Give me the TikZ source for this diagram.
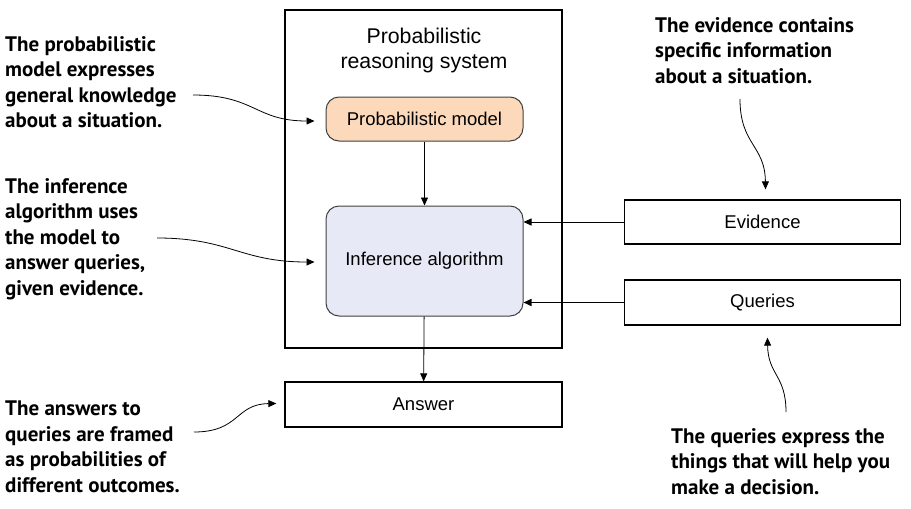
\documentclass[tikz,border=0pt]{standalone}
\usepackage{fontspec}
\setmainfont{Liberation Sans}
\newfontfamily\annfont{PT Sans}
\usetikzlibrary{arrows.meta}
\definecolor{peach}{HTML}{FCD9BB}
\definecolor{lblue}{HTML}{E7EAF6}
\definecolor{bord}{HTML}{404040}
\tikzset{
  box/.style={draw=black, line width=1.3pt, inner sep=0pt, font=\fontsize{18.5}{22}\selectfont},
  roundbox/.style={draw=bord, line width=1pt, rounded corners=13pt, inner sep=0pt, minimum width=197pt, font=\fontsize{18.5}{22}\selectfont},
  ann/.style={anchor=north west, inner sep=0pt, align=left, font=\annfont\bfseries\fontsize{21}{25.5}\selectfont},
  arr/.style={-{Triangle[length=8pt,width=7pt]}, line width=0.8pt},
}
\begin{document}
\begin{tikzpicture}[x=1pt,y=-1pt]
\useasboundingbox (0,0) rectangle (911,509);
% system box
\node[box, minimum width=277pt, minimum height=338pt] (sys) at (423.5,179) {};
\node[align=center, inner sep=0pt, font=\fontsize{21.3}{25}\selectfont] (title) at (424,50) {Probabilistic\\reasoning system};
\node[roundbox, fill=peach, minimum height=44pt] (model) at (424.5,119) {Probabilistic model};
\node[roundbox, fill=lblue, minimum height=110pt] (infer) at (424.5,261) {Inference algorithm};
\node[box, minimum width=277pt, minimum height=45pt] (answer) at (423.5,404.5) {Answer};
\node[box, minimum width=276pt, minimum height=44pt] (evid) at (762.5,222) {Evidence};
\node[box, minimum width=276pt, minimum height=45pt] (query) at (762.5,302.5) {Queries};
% main arrows
\draw[arr] (model) -- (infer);
\draw[arr] (infer) -- (answer);
\draw[arr] (evid.west) -- (infer.east |- evid.west);
\draw[arr, line width=1.6pt] (query.west) -- (infer.east |- query.west);
% annotations
\node[ann] (tmodel) at (5,36) {The probabilistic\\model expresses\\general knowledge\\about a situation.};
\node[ann] (tinfer) at (5,178) {The inference\\algorithm uses\\the model to\\answer queries,\\given evidence.};
\node[ann] (tanswer) at (5,401) {The answers to\\queries are framed\\as probabilities of\\different outcomes.};
\node[ann] (tevid) at (655,17) {The evidence contains\\specific information\\about a situation.};
\node[ann] (tquery) at (671,428) {The queries express the\\things that will help you\\make a decision.};
\coordinate (c1) at (193,95);
\coordinate (c2) at (157,238);
\coordinate (c3) at (194,432);
\coordinate (c4) at (740,99);
\coordinate (c5) at (786,412);
\draw[arr] (c1) .. controls (255,95) and (255,121) .. ([xshift=-11pt,yshift=-2pt]model.west);
\draw[arr] (c2) .. controls (230,238) and (240,262) .. ([xshift=-11pt,yshift=-1pt]infer.west);
\draw[arr] (c3) .. controls (240,432) and (235,404) .. ([xshift=-8pt,yshift=1pt]answer.west);
\draw[arr] (c4) .. controls (740,145) and (765,145) .. ([xshift=3pt,yshift=10pt]evid.north);
\draw[arr] (c5) .. controls (786,375) and (768,375) .. ([xshift=5pt,yshift=-12pt]query.south);
\end{tikzpicture}
\end{document}
